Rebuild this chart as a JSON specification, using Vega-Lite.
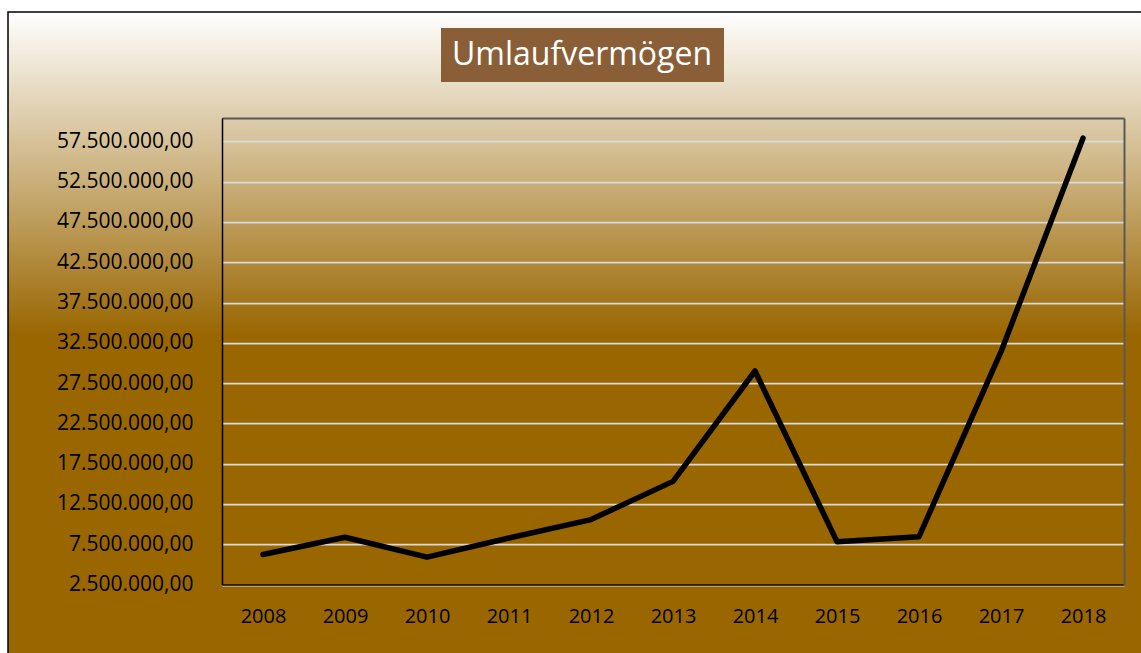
{
  "$schema": "https://vega.github.io/schema/vega-lite/v6.json",
  "width": 1140,
  "height": 648,
  "autosize": {"type": "none"},
  "padding": {"left": 8, "top": 12, "right": -7, "bottom": -7},
  "background": "#ffffff",
  "view": {
    "fill": {
      "gradient": "linear",
      "x1": 0, "y1": 0, "x2": 0, "y2": 1,
      "stops": [
        {"offset": 0, "color": "#ffffff"},
        {"offset": 0.5, "color": "#996600"},
        {"offset": 1, "color": "#996600"}
      ]
    },
    "stroke": "#000000",
    "strokeWidth": 1.5
  },
  "config": {
    "font": "Open Sans",
    "locale": {
      "number": {"decimal": ",", "thousands": ".", "grouping": [3], "currency": ["", " €"]}
    }
  },
  "data": {
    "values": [
      {"Jahr": 2008, "Wert": 6220000, "Reihe": "Umlaufvermögen"},
      {"Jahr": 2009, "Wert": 8370000, "Reihe": "Umlaufvermögen"},
      {"Jahr": 2010, "Wert": 5890000, "Reihe": "Umlaufvermögen"},
      {"Jahr": 2011, "Wert": 8270000, "Reihe": "Umlaufvermögen"},
      {"Jahr": 2012, "Wert": 10560000, "Reihe": "Umlaufvermögen"},
      {"Jahr": 2013, "Wert": 15300000, "Reihe": "Umlaufvermögen"},
      {"Jahr": 2014, "Wert": 29000000, "Reihe": "Umlaufvermögen"},
      {"Jahr": 2015, "Wert": 7820000, "Reihe": "Umlaufvermögen"},
      {"Jahr": 2016, "Wert": 8440000, "Reihe": "Umlaufvermögen"},
      {"Jahr": 2017, "Wert": 31400000, "Reihe": "Umlaufvermögen"},
      {"Jahr": 2018, "Wert": 57900000, "Reihe": "Umlaufvermögen"}
    ]
  },
  "layer": [
    {
      "mark": {"type": "line", "strokeWidth": 5.5, "strokeCap": "round", "strokeJoin": "round"},
      "encoding": {
        "x": {
          "field": "Jahr", "type": "quantitative",
          "scale": {"domain": [2007.5, 2018.5], "range": [214, 1116], "nice": false, "zero": false},
          "axis": {
            "orient": "bottom", "offset": -75.5,
            "values": [2008, 2009, 2010, 2011, 2012, 2013, 2014, 2015, 2016, 2017, 2018],
            "format": "d", "grid": false, "ticks": false,
            "domainColor": "#000000", "domainWidth": 1.5,
            "labelFont": "Open Sans", "labelFontSize": 20, "labelColor": "#000000",
            "labelPadding": 22, "labelFlush": false, "labelOverlap": false, "title": null
          }
        },
        "y": {
          "field": "Wert", "type": "quantitative",
          "scale": {"domain": [2500000, 60400000], "range": [572.5, 106], "nice": false, "zero": false},
          "axis": {
            "orient": "left", "offset": -214,
            "values": [2500000, 7500000, 12500000, 17500000, 22500000, 27500000, 32500000, 37500000, 42500000, 47500000, 52500000, 57500000],
            "format": ",.2f", "grid": true, "gridColor": "#D9D9D9", "gridWidth": 1.75,
            "ticks": false, "domainColor": "#000000", "domainWidth": 1.5,
            "labelFont": "Open Sans", "labelFontSize": 21, "labelColor": "#000000",
            "labelPadding": 29, "labelFlush": false, "labelOverlap": false, "title": null
          }
        },
        "color": {
          "field": "Reihe", "type": "nominal",
          "scale": {"range": ["#000000"]},
          "legend": {
            "orient": "none", "legendX": 433, "legendY": 16,
            "title": null, "fillColor": "#8A5F38", "padding": 11,
            "labelFont": "Open Sans", "labelFontSize": 32, "labelColor": "#ffffff",
            "labelLimit": 0, "labelOffset": -32,
            "symbolSize": 0, "symbolStrokeWidth": 0, "symbolOpacity": 0
          }
        }
      }
    },
    {
      "mark": {"type": "point", "opacity": 0},
      "encoding": {
        "x": {
          "field": "Jahr", "type": "quantitative",
          "axis": {"orient": "top", "offset": -106, "labels": false, "ticks": false, "grid": false, "domainColor": "#595959", "domainWidth": 2, "title": null}
        },
        "y": {
          "field": "Wert", "type": "quantitative",
          "axis": {"orient": "right", "offset": -24, "labels": false, "ticks": false, "grid": false, "domainColor": "#595959", "domainWidth": 2, "title": null}
        }
      }
    }
  ],
  "resolve": {"axis": {"x": "independent", "y": "independent"}}
}
